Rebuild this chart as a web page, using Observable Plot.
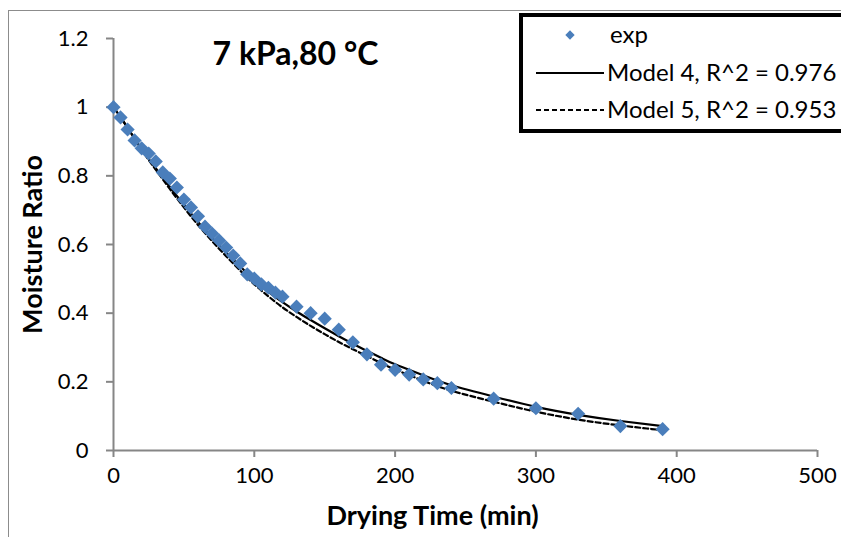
<!DOCTYPE html>
<html>
<head>
<meta charset="utf-8">
<script src="https://cdn.jsdelivr.net/npm/d3@7"></script>
<script src="https://cdn.jsdelivr.net/npm/@observablehq/plot@0.6"></script>
<style>
  html, body { margin: 0; padding: 0; background: #fff; }
  #chart { position: relative; width: 841px; height: 537px; overflow: hidden; }
</style>
</head>
<body>
<div id="chart"></div>
<script>
// Experimental data
const expTime = [0,5,10,15,20,25,30,35,40,45,50,55,60,65,70,75,80,85,90,95,100,105,110,115,120,
  130,140,150,160,170,180,190,200,210,220,230,240,270,300,330,360,390];
const expMR = [1.0,0.97,0.935,0.903,0.88,0.865,0.842,0.81,0.792,0.766,0.731,0.708,0.682,0.652,0.632,0.612,0.591,0.568,0.545,0.513,0.501,0.484,0.474,0.46,0.448,
  0.419,0.40,0.384,0.352,0.315,0.28,0.25,0.235,0.221,0.207,0.196,0.182,0.151,0.123,0.107,0.071,0.062];

// Model curves
const modelTime = [0,10,20,30,40,50,60,70,80,90,100,110,120,130,140,150,160,170,180,190,200,220,240,270,300,330,360,390];
const model4MR = [1.0,0.94,0.878,0.822,0.768,0.716,0.666,0.62,0.577,0.536,0.496,0.462,0.432,0.405,0.38,0.356,0.333,0.311,0.29,0.27,0.251,0.219,0.19,0.157,0.127,0.104,0.086,0.071];
const model5MR = [1.0,0.94,0.876,0.818,0.762,0.708,0.657,0.61,0.566,0.524,0.484,0.449,0.417,0.389,0.363,0.339,0.316,0.295,0.275,0.255,0.236,0.203,0.174,0.142,0.113,0.09,0.073,0.059];

const xTicks = [0,100,200,300,400,500];
const yTicks = [0,0.2,0.4,0.6,0.8,1.0,1.2];
const titleText = "7 kPa,80 °C";
const xLabel = "Drying Time (min)";
const yLabel = "Moisture Ratio";
const legendLabels = ["exp", "Model 4, R^2 = 0.976", "Model 5, R^2 = 0.953"];

const expData = expTime.map((t, i) => ({t, mr: expMR[i]}));
const m4Data = modelTime.map((t, i) => ({t, mr: model4MR[i]}));
const m5Data = modelTime.map((t, i) => ({t, mr: model5MR[i]}));

const BLUE = "#4a7ebb";
const AXIS = "#868686";
const FONT = "Lato, 'Open Sans', sans-serif";

const plot = Plot.plot({
  width: 841,
  height: 537,
  marginLeft: 113,
  marginRight: 24,
  marginTop: 38,
  marginBottom: 87,
  style: { fontFamily: FONT, fontSize: "22px", color: "#000", background: "#fff" },
  x: { domain: [0, 500] },
  y: { domain: [0, 1.2] },
  marks: [
    Plot.ruleY([0], { stroke: AXIS, strokeWidth: 2 }),
    Plot.ruleX([0], { stroke: AXIS, strokeWidth: 2 }),
    Plot.axisX({ ticks: xTicks, tickSize: 7, tickPadding: 10, stroke: AXIS, fill: "#000", strokeWidth: 2, label: null, fontSize: 22 }),
    Plot.axisY({ ticks: yTicks, tickSize: 7, tickPadding: 18, stroke: AXIS, fill: "#000", strokeWidth: 2, label: null, fontSize: 22,
      tickFormat: d => String(+d.toFixed(1)) }),
    Plot.line(m4Data, { x: "t", y: "mr", curve: "natural", stroke: "#000", strokeWidth: 2.2 }),
    Plot.line(m5Data, { x: "t", y: "mr", curve: "natural", stroke: "#000", strokeWidth: 2.2, strokeDasharray: "5,3" }),
    Plot.dot(expData, { x: "t", y: "mr", symbol: "diamond2", r: 6.4, fill: BLUE, stroke: "none" }),
    Plot.text([titleText], { frameAnchor: "top-left", dx: 182, dy: 16, lineAnchor: "middle", text: d => d, fontSize: 32, fontWeight: "bold", textAnchor: "middle", fill: "#000" }),
    Plot.text([xLabel], { frameAnchor: "bottom", dx: -33, dy: 66, lineAnchor: "middle", text: d => d, fontSize: 27, fontWeight: "bold", textAnchor: "middle", fill: "#000" }),
    Plot.text([yLabel], { frameAnchor: "left", dx: -80, dy: 0, rotate: -90, lineAnchor: "middle", textAnchor: "middle", text: d => d, fontSize: 27, fontWeight: "bold", fill: "#000" })
  ]
});

const svg = d3.select(plot);
// Outer chart border
svg.insert("rect", ":first-child")
  .attr("x", 8.5).attr("y", 10.5).attr("width", 900).attr("height", 600)
  .attr("fill", "none").attr("stroke", "#8c8c8c").attr("stroke-width", 1);

// Legend
const lg = svg.append("g").attr("font-family", FONT).attr("font-size", 24).attr("text-anchor", "start");
lg.append("rect").attr("x", 521).attr("y", 15).attr("width", 340).attr("height", 116)
  .attr("fill", "#fff").attr("stroke", "#000").attr("stroke-width", 4);
const rowY = [35, 73, 110];
lg.append("path").attr("d", d3.symbol(d3.symbolDiamond2, Math.PI * 4.2 * 4.2)())
  .attr("transform", `translate(570,${rowY[0]})`).attr("fill", BLUE);
lg.append("line").attr("x1", 536).attr("x2", 604).attr("y1", rowY[1]).attr("y2", rowY[1])
  .attr("stroke", "#000").attr("stroke-width", 2);
lg.append("line").attr("x1", 536).attr("x2", 604).attr("y1", rowY[2]).attr("y2", rowY[2])
  .attr("stroke", "#000").attr("stroke-width", 2).attr("stroke-dasharray", "5,3");
legendLabels.forEach((s, i) => {
  lg.append("text").attr("x", i === 0 ? 610 : 607).attr("y", rowY[i]).attr("dy", "0.35em")
    .attr("text-anchor", "start").attr("fill", "#000").text(s);
});

document.getElementById("chart").appendChild(plot);
</script>
</body>
</html>
